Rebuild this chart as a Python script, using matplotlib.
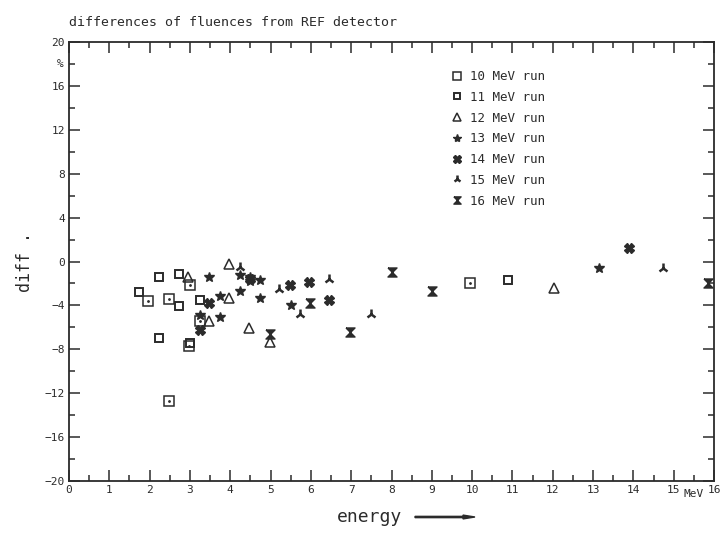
import matplotlib.pyplot as plt

# data: energy (MeV) and difference (%) per run
e10 = [1.97, 2.48, 2.48, 2.99, 2.98, 3.25, 9.95]
d10 = [-3.6, -3.4, -12.7, -2.1, -7.7, -5.45, -2.0]

e11 = [1.74, 2.23, 2.23, 2.74, 2.74, 3.0, 3.25, 10.89]
d11 = [-2.8, -1.4, -7.0, -1.1, -4.1, -7.4, -3.5, -1.7]

e12 = [2.96, 3.47, 3.97, 3.97, 4.47, 4.98, 12.04]
d12 = [-1.4, -5.4, -0.2, -3.3, -6.1, -7.3, -2.4]

e13 = [3.25, 3.48, 3.75, 3.75, 4.24, 4.24, 4.48, 4.48, 4.75, 4.75, 5.5, 13.15]
d13 = [-4.9, -1.4, -3.1, -5.05, -1.2, -2.7, -1.4, -1.8, -1.7, -3.3, -4.0, -0.6]

e14 = [3.25, 3.48, 4.5, 5.47, 5.96, 6.44, 13.88]
d14 = [-6.2, -3.8, -1.6, -2.1, -1.9, -3.55, 1.2]

e15 = [4.23, 5.2, 5.72, 6.44, 7.49, 14.73]
d15 = [-0.5, -2.5, -4.75, -1.6, -4.75, -0.6]

e16 = [4.98, 5.98, 6.96, 8.02, 9.0, 15.85]
d16 = [-6.6, -3.8, -6.4, -1.0, -2.7, -2.0]

ink = '#2b2b2b'
plt.rcParams['font.family'] = 'DejaVu Sans Mono'
plt.rcParams['text.color'] = ink

hourglass = [(-1, 1), (1, 1), (-1, -1), (1, -1), (-1, 1)]

fig = plt.figure(figsize=(7.24, 5.33), dpi=100)
ax = fig.add_axes([69/724, 1 - 481/533, 645/724, 439/533])

ax.plot(e10, d10, 's', ms=6.5, mfc='none', mec=ink, mew=1.1, label='10 MeV run')
ax.plot(e10, d10, '.', ms=2, color=ink)
ax.plot(e11, d11, 's', ms=5.5, mfc='none', mec=ink, mew=1.4, label='11 MeV run')
ax.plot(e12, d12, '^', ms=6.5, mfc='none', mec=ink, mew=1.1, label='12 MeV run')
ax.plot(e13, d13, '*', ms=7.5, color=ink, label='13 MeV run')
ax.plot(e14, d14, 'X', ms=6.5, color=ink, label='14 MeV run')
ax.plot(e15, d15, '2', ms=7.5, mew=1.8, color=ink, label='15 MeV run')
ax.plot(e16, d16, marker=hourglass, ls='none', ms=6.5, color=ink, label='16 MeV run')

ax.set_xlim(0, 16)
ax.set_ylim(-20, 20)

ax.set_xticks(range(0, 17))
ax.set_xticks([i + 0.5 for i in range(16)], minor=True)
ax.set_yticks(range(-20, 21, 4))
ax.set_yticks(range(-18, 20, 4), minor=True)

ax.tick_params(which='major', direction='in', length=8, width=1.1, color=ink,
               labelsize=8, labelcolor=ink, top=True, right=True, pad=3)
ax.tick_params(which='minor', direction='in', length=4, width=1.1, color=ink,
               top=True, right=True)
for s in ax.spines.values():
    s.set_color(ink)
    s.set_linewidth(1.3)

ax.text(-0.008, 18, '%', transform=ax.get_yaxis_transform(), ha='right',
        va='center', fontsize=8, color=ink)
ax.text(15.5, -20.7, 'MeV', ha='center', va='top', fontsize=8, color=ink)

ax.legend(loc='upper left', bbox_to_anchor=(0.594, 0.936), frameon=False,
          fontsize=9, handlelength=0.8, handletextpad=0.6, labelspacing=0.62,
          borderpad=0, borderaxespad=0, numpoints=1, markerscale=0.8)

fig.text(69/724, 1 - 22/533, 'differences of fluences from REF detector',
         ha='left', va='center', fontsize=9.5)
fig.text(25/724, 1 - 262/533, 'diff .', rotation=90, ha='center',
         va='center', fontsize=12)
fig.text(370/724, 1 - 517/533, 'energy', ha='center', va='center', fontsize=13)
fig.patches.append(plt.Arrow(415/724, 1 - 517/533, 60/724, 0, width=0.012,
                             transform=fig.transFigure, color=ink))

fig.savefig('out.png', dpi=100)
